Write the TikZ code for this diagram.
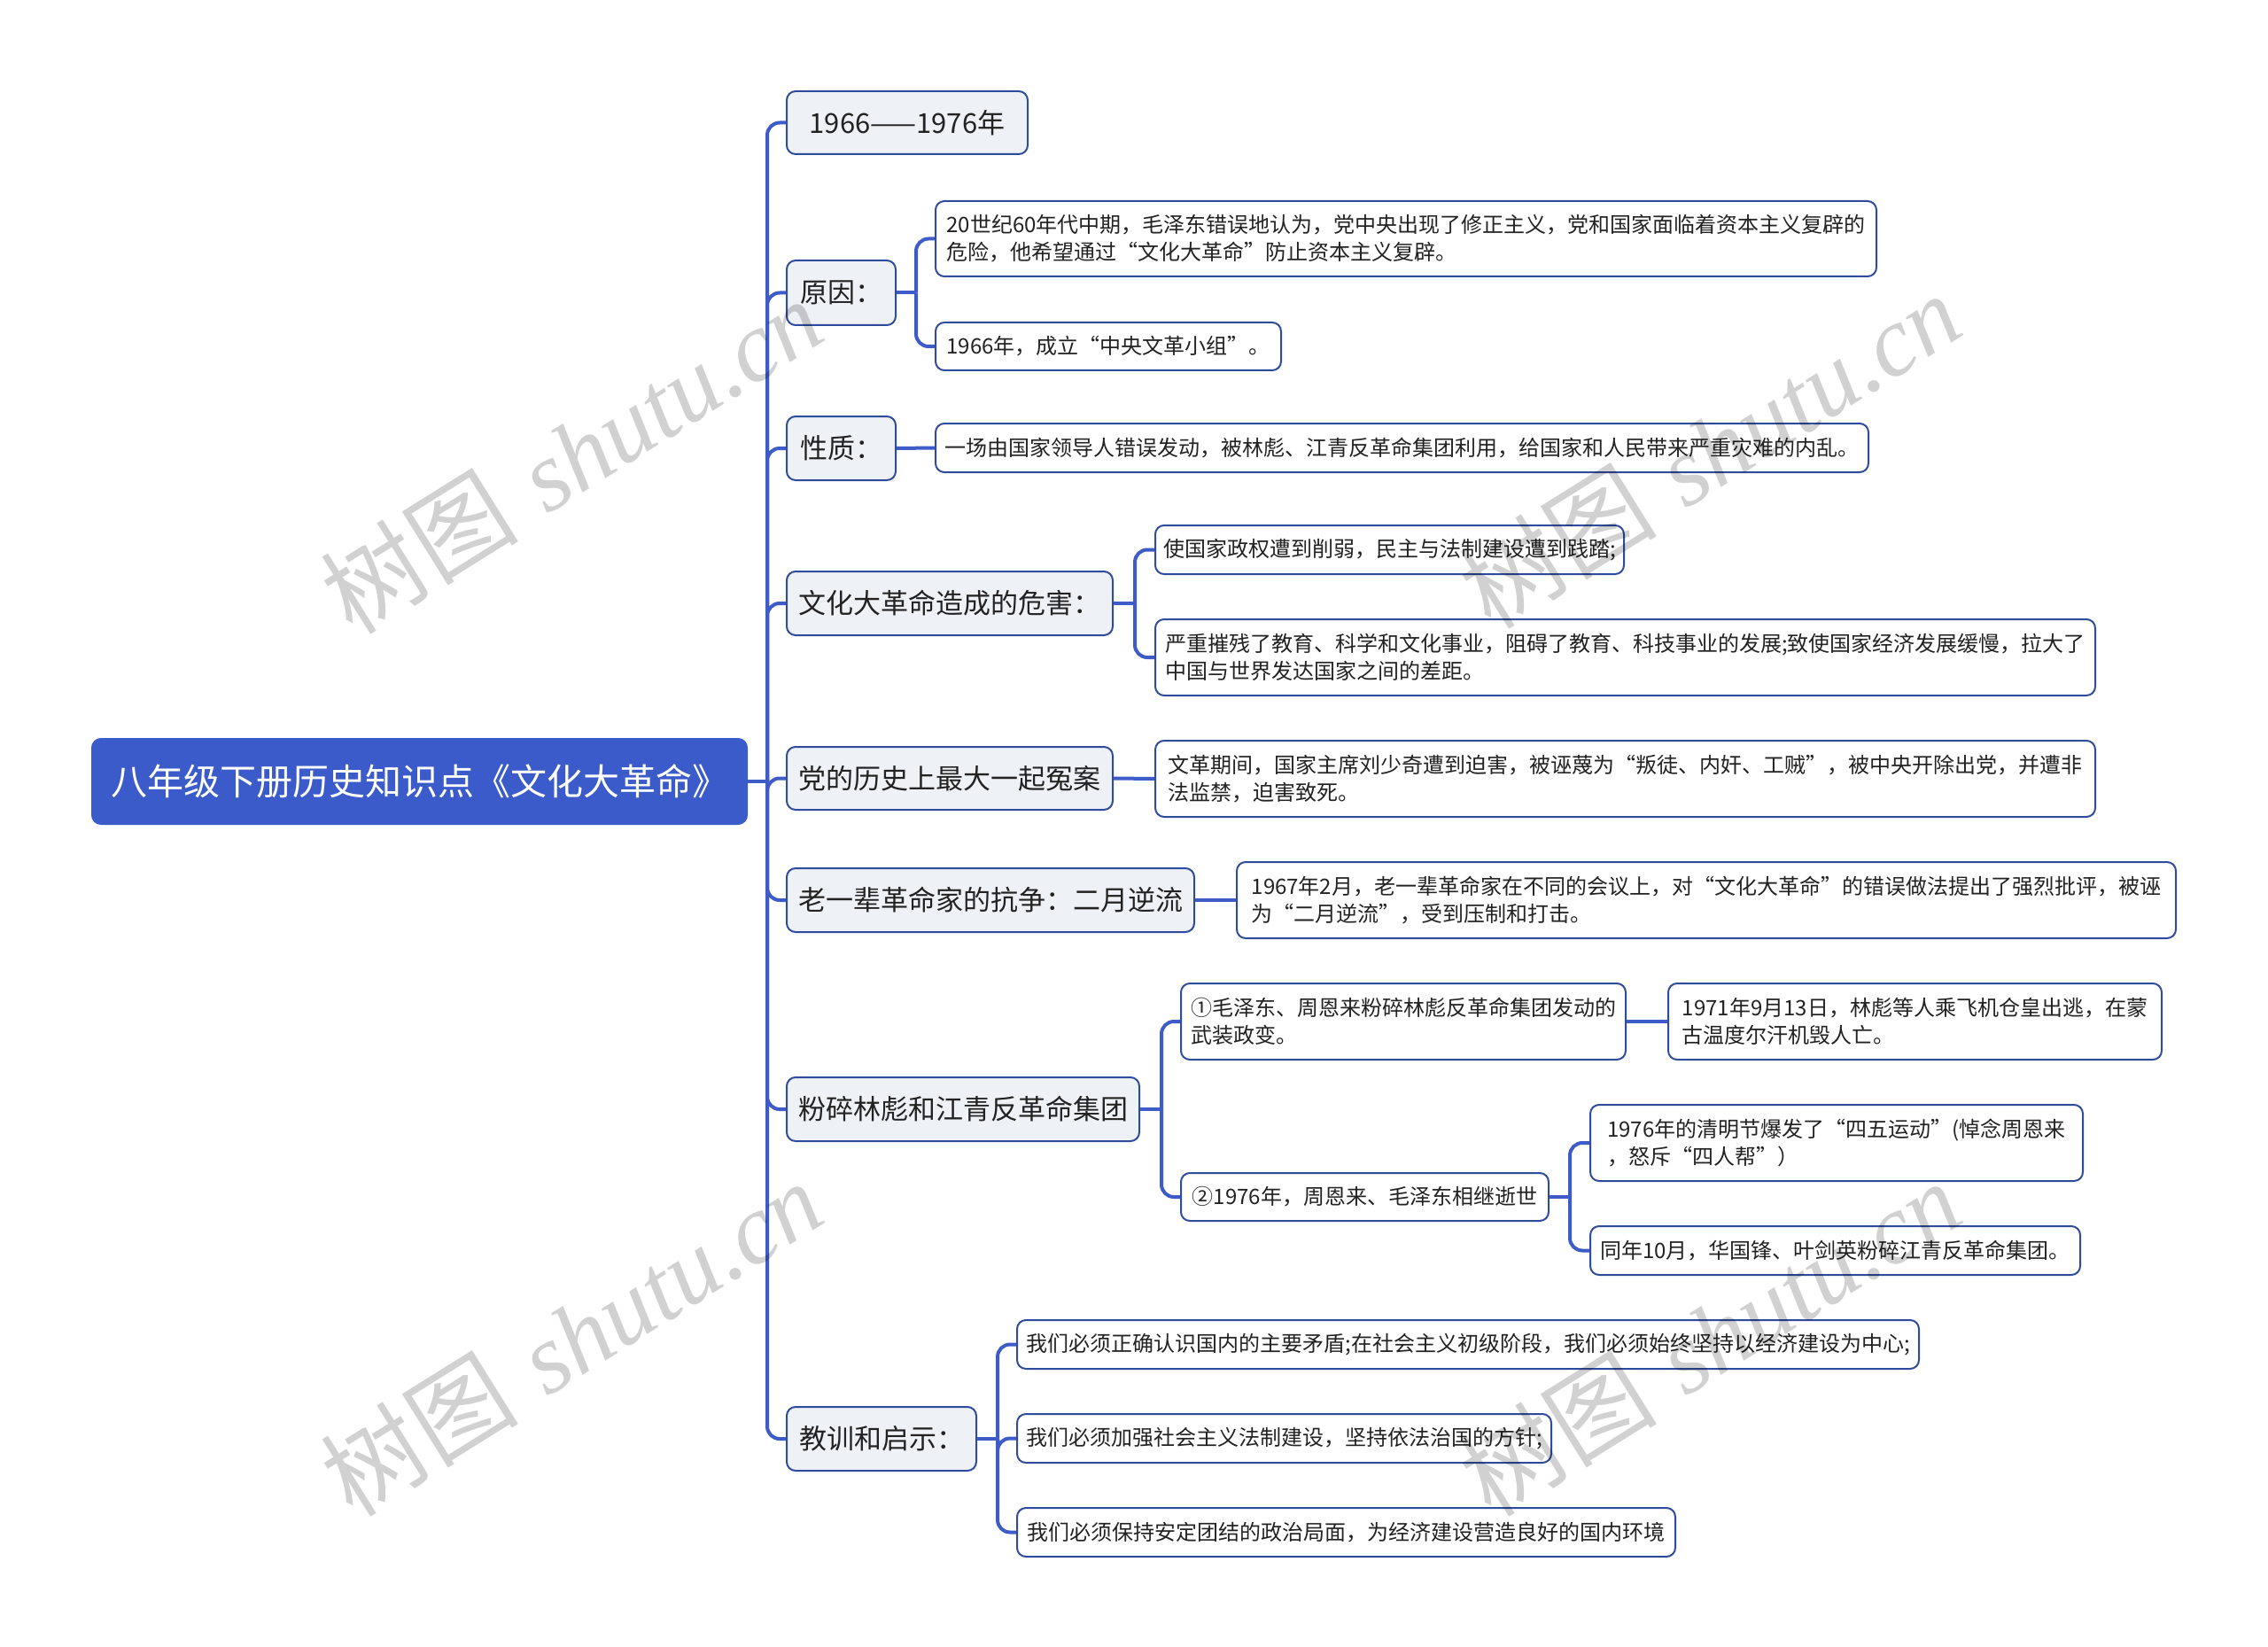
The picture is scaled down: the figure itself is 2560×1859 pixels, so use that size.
\documentclass[tikz,border=0pt]{standalone}
\usepackage{fontspec}
\setmainfont{Noto Sans CJK SC}
\newfontfamily\wmlatin{Liberation Serif}
\definecolor{rootc}{HTML}{3B5BCB}
\definecolor{linec}{HTML}{3D5CC8}
\definecolor{bordc}{HTML}{2F4C9C}
\definecolor{lonefill}{HTML}{EEF1F6}
\definecolor{txtc}{HTML}{222222}
\newcommand\mybox[7]{\node[#1, minimum width=#5pt, minimum height=#6pt] (#2) at (#3,#4) {#7};}
\begin{document}
\begin{tikzpicture}[x=1pt,y=-1pt,
 base/.style={anchor=north west, rounded corners=10pt, inner sep=0pt, align=left, text=txtc},
 rootbox/.style={base, fill=rootc, draw=rootc, line width=2pt, text=white, font=\fontsize{41}{48}\selectfont},
 lone/.style={base, fill=lonefill, draw=bordc, line width=2pt, font=\fontsize{31}{38}\selectfont},
 ltwo/.style={base, fill=white, draw=bordc, line width=2pt, font=\fontsize{24}{31}\selectfont},
 conn/.style={draw=linec, line width=4pt, rounded corners=14pt},
 wm/.style={rotate=32, text=black, opacity=0.18, inner sep=0pt, font=\fontsize{112}{112}\selectfont}
]
\fill[white] (0,0) rectangle (2560,1859);
\useasboundingbox (0,0) rectangle (2560,1859);

\mybox{rootbox}{root}{103}{833}{739}{96}{八年级下册历史知识点《文化大革命》}

\mybox{lone}{t1}{887}{102}{272}{71}{1966——1976年}
\mybox{lone}{t2}{887}{293}{123}{73}{原因：}
\mybox{lone}{t3}{887}{469}{123}{72}{性质：}
\mybox{lone}{t4}{887}{644}{368}{72}{文化大革命造成的危害：}
\mybox{lone}{t5}{887}{842}{368}{71}{党的历史上最大一起冤案}
\mybox{lone}{t6}{887}{979}{460}{72}{老一辈革命家的抗争：二月逆流}
\mybox{lone}{t7}{887}{1215}{398}{72}{粉碎林彪和江青反革命集团}
\mybox{lone}{t8}{887}{1587}{214}{72}{教训和启示：}

\mybox{ltwo}{a1}{1055}{226}{1062}{85}{20世纪60年代中期，毛泽东错误地认为，党中央出现了修正主义，党和国家面临着资本主义复辟的\\危险，他希望通过“文化大革命”防止资本主义复辟。}
\mybox{ltwo}{a2}{1055}{363}{390}{54}{1966年，成立“中央文革小组”。}
\mybox{ltwo}{b1}{1055}{477}{1053}{55}{一场由国家领导人错误发动，被林彪、江青反革命集团利用，给国家和人民带来严重灾难的内乱。}
\mybox{ltwo}{c1}{1303}{592}{529}{55}{使国家政权遭到削弱，民主与法制建设遭到践踏;}
\mybox{ltwo}{c2}{1303}{698}{1061}{86}{严重摧残了教育、科学和文化事业，阻碍了教育、科技事业的发展;致使国家经济发展缓慢，拉大了\\中国与世界发达国家之间的差距。}
\mybox{ltwo}{d1}{1303}{835}{1061}{86}{文革期间，国家主席刘少奇遭到迫害，被诬蔑为“叛徒、内奸、工贼”，被中央开除出党，并遭非\\法监禁，迫害致死。}
\mybox{ltwo}{e1}{1395}{972}{1060}{86}{1967年2月，老一辈革命家在不同的会议上，对“文化大革命”的错误做法提出了强烈批评，被诬\\为“二月逆流”，受到压制和打击。}
\mybox{ltwo}{f1}{1332}{1109}{502}{86}{①毛泽东、周恩来粉碎林彪反革命集团发动的\\武装政变。}
\mybox{ltwo}{f1a}{1882}{1109}{557}{86}{1971年9月13日，林彪等人乘飞机仓皇出逃，在蒙\\古温度尔汗机毁人亡。}
\mybox{ltwo}{f2}{1332}{1323}{415}{54}{②1976年，周恩来、毛泽东相继逝世}
\mybox{ltwo}{f2a}{1794}{1246}{556}{86}{1976年的清明节爆发了“四五运动”(悼念周恩来\\，怒斥“四人帮”）}
\mybox{ltwo}{f2b}{1794}{1383}{553}{55}{同年10月，华国锋、叶剑英粉碎江青反革命集团。}
\mybox{ltwo}{g1}{1147}{1489}{1018}{55}{我们必须正确认识国内的主要矛盾;在社会主义初级阶段，我们必须始终坚持以经济建设为中心;}
\mybox{ltwo}{g2}{1147}{1595}{603}{55}{我们必须加强社会主义法制建设，坚持依法治国的方针;}
\mybox{ltwo}{g3}{1147}{1701}{743}{55}{我们必须保持安定团结的政治局面，为经济建设营造良好的国内环境}

% connectors
\path (root.east) ++(22,0) coordinate (jr);
\draw[conn] (root.east) -- (jr);
\foreach \n in {t1,t2,t3,t4,t5,t6,t7,t8} \draw[conn] (jr) |- (\n.west);

\path (t2.east) ++(22,0) coordinate (j2);
\draw[conn] (t2.east) -- (j2);
\foreach \n in {a1,a2} \draw[conn] (j2) |- (\n.west);

\draw[conn] (t3.east) -- (b1.west);

\path (t4.east) ++(24,0) coordinate (j4);
\draw[conn] (t4.east) -- (j4);
\foreach \n in {c1,c2} \draw[conn] (j4) |- (\n.west);

\draw[conn] (t5.east) -- (d1.west);
\draw[conn] (t6.east) -- (e1.west);

\path (t7.east) ++(24,0) coordinate (j7);
\draw[conn] (t7.east) -- (j7);
\foreach \n in {f1,f2} \draw[conn] (j7) |- (\n.west);

\draw[conn] (f1.east) -- (f1a.west);

\path (f2.east) ++(23,0) coordinate (jf);
\draw[conn] (f2.east) -- (jf);
\foreach \n in {f2a,f2b} \draw[conn] (jf) |- (\n.west);

\path (t8.east) ++(23,0) coordinate (j8);
\draw[conn] (t8.east) -- (j8);
\foreach \n in {g1,g2,g3} \draw[conn] (j8) |- (\n.west);

% watermarks
\node[wm] (wm1) at (645,514) {树图\hspace{0.3em}{\wmlatin\itshape shutu.cn}};
\node[wm] (wm2) at (1930,508) {树图\hspace{0.3em}{\wmlatin\itshape shutu.cn}};
\node[wm] (wm3) at (645,1510) {树图\hspace{0.3em}{\wmlatin\itshape shutu.cn}};
\node[wm] (wm4) at (1930,1510) {树图\hspace{0.3em}{\wmlatin\itshape shutu.cn}};
\end{tikzpicture}
\end{document}
